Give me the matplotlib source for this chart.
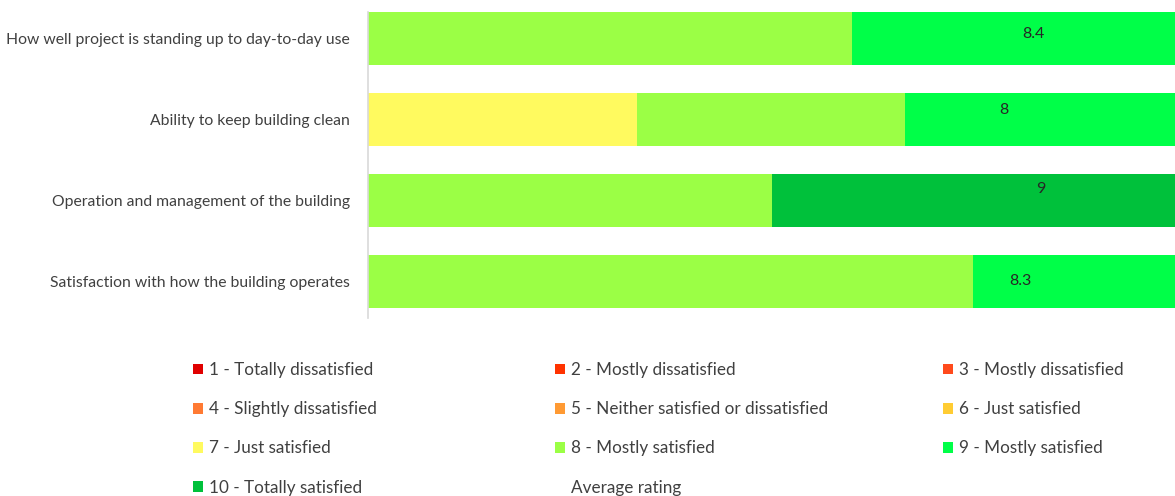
import matplotlib
matplotlib.use("Agg")
import matplotlib.pyplot as plt
import numpy as np
from matplotlib.patches import Patch

plt.rcParams['font.family'] = ['Lato', 'DejaVu Sans']

questions = [
    "How well project is standing up to day-to-day use",
    "Ability to keep building clean",
    "Operation and management of the building",
    "Satisfaction with how the building operates",
]

rating_labels = [
    "1 - Totally dissatisfied",
    "2 - Mostly dissatisfied",
    "3 - Mostly dissatisfied",
    "4 - Slightly dissatisfied",
    "5 - Neither satisfied or dissatisfied",
    "6 - Just satisfied",
    "7 - Just satisfied",
    "8 - Mostly satisfied",
    "9 - Mostly satisfied",
    "10 - Totally satisfied",
]

# share of responses (%) for ratings 1..10, one list per question
q1_shares = [0, 0, 0, 0, 0, 0, 0, 60, 40, 0]
q2_shares = [0, 0, 0, 0, 0, 0, 33.3, 33.3, 33.4, 0]
q3_shares = [0, 0, 0, 0, 0, 0, 0, 50, 0, 50]
q4_shares = [0, 0, 0, 0, 0, 0, 0, 75, 25, 0]

average_rating = [8.4, 8, 9, 8.3]

colors = ['#E00000', '#FF3300', '#FF4A1C', '#FF7A33', '#FF9A33',
          '#FFCC33', '#FFFA5F', '#9BFF45', '#00FF48', '#00C13B']

shares = np.array([q1_shares, q2_shares, q3_shares, q4_shares]) / 100.0

fig = plt.figure(figsize=(11.75, 4.96), dpi=100)
W, H = 1175, 496
ax = fig.add_axes([368 / W, 1 - 318 / H, 1 - 368 / W, (318 - 12) / H])

y = np.arange(len(questions))
bar_h = 0.65
left = np.zeros(len(questions))
for i in range(10):
    ax.barh(y, shares[:, i], left=left, height=bar_h, color=colors[i],
            edgecolor='none')
    left += shares[:, i]

# average rating labels (placed as in the original chart)
label_x = [0.824, 0.788, 0.834, 0.808]
label_dy = [-0.05, -0.11, -0.14, -0.01]
for yi, (avg, lx, dy) in enumerate(zip(average_rating, label_x, label_dy)):
    ax.text(lx, yi + dy, f"{avg:g}", ha='center', va='center',
            fontsize=11.5, color='#262626')

ax.set_xlim(0, 1)
ax.set_ylim(-bar_h / 2 + (306 / 81), -bar_h / 2)
ax.set_yticks(y)
ax.set_yticklabels(questions, fontsize=11.3, color='#404040')
ax.tick_params(axis='y', length=0, pad=13)
ax.set_xticks([])
for s in ['top', 'right', 'bottom']:
    ax.spines[s].set_visible(False)
ax.spines['left'].set_color('#D9D9D9')
ax.spines['left'].set_linewidth(1.2)

# legend in three columns, row-major order like the original
handles = [Patch(facecolor=c, edgecolor='none') for c in colors]
handles.append(Patch(facecolor='none', edgecolor='none'))
labels = rating_labels + ["Average rating"]
cols = [[0, 3, 6, 9], [1, 4, 7, 10], [2, 5, 8]]
col_x = [193, 555, 943]
for cidx, xpix in zip(cols, col_x):
    leg = fig.legend([handles[k] for k in cidx], [labels[k] for k in cidx],
                     loc='upper left', bbox_to_anchor=(xpix / W, 1 - 362 / H),
                     frameon=False, fontsize=12.3, handlelength=0.6,
                     handleheight=0.6, handletextpad=0.35, labelspacing=1.36,
                     borderaxespad=0, borderpad=0)
    for t in leg.get_texts():
        t.set_color('#404040')

fig.savefig("out.png", dpi=100)
